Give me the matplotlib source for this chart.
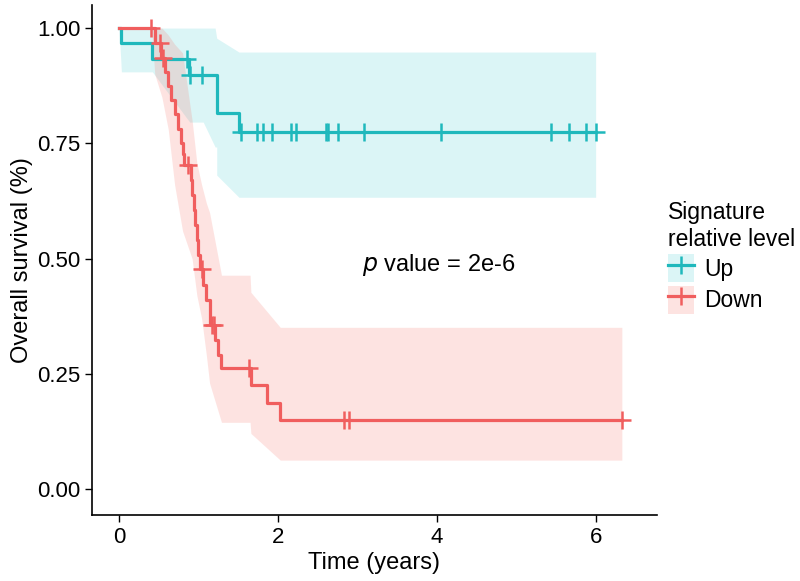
import numpy as np
import matplotlib
matplotlib.use("Agg")
import matplotlib.pyplot as plt
from matplotlib.patches import Patch
from matplotlib.lines import Line2D

plt.rcParams['font.family'] = ['Liberation Sans', 'DejaVu Sans']

# Up group: step times and survival after each step
up_t = [0.0, 0.03, 0.42, 0.88, 1.23, 1.51]
up_s = [1.0, 0.967, 0.933, 0.898, 0.816, 0.774]
up_end = 6.0
up_cens_t = [0.86, 0.89, 1.04, 1.54, 1.74, 1.81, 1.92, 2.16, 2.23, 2.60, 2.63, 2.76, 3.09, 4.05, 5.44, 5.66, 5.88, 6.0]
# Up confidence band
up_ci_t = [0.0, 0.03, 0.42, 0.89, 1.06, 1.21, 1.23, 1.23, 1.51, 6.0]
up_ci_lo = [1.0, 0.905, 0.905, 0.796, 0.796, 0.742, 0.742, 0.681, 0.633, 0.633]
up_ci_hi = [1.0, 1.0, 1.0, 1.0, 1.0, 1.0, 0.978, 0.978, 0.948, 0.948]

# Down group
down_t = [0.0, 0.45, 0.53, 0.58, 0.62, 0.66, 0.70, 0.74, 0.78, 0.80, 0.82, 0.90, 0.92,
          0.94, 0.96, 0.98, 1.00, 1.02, 1.06, 1.09, 1.15, 1.21, 1.25, 1.29, 1.66, 1.86, 2.03]
down_s = [1.0, 0.967, 0.936, 0.905, 0.874, 0.843, 0.813, 0.782, 0.751, 0.727, 0.703, 0.670, 0.637,
          0.605, 0.572, 0.540, 0.508, 0.477, 0.443, 0.410, 0.356, 0.323, 0.290, 0.262, 0.225, 0.187, 0.150]
down_end = 6.33
down_cens_t = [0.40, 0.52, 0.55, 0.87, 1.04, 1.17, 1.19, 1.64, 2.83, 2.89, 6.33]
down_ci_t = [0.0, 0.41, 0.45, 0.54, 0.62, 0.70, 0.80, 0.92, 0.98, 1.04, 1.10, 1.14, 1.29, 1.65, 1.66, 2.03, 6.33]
down_ci_lo = [1.0, 1.0, 0.90, 0.85, 0.78, 0.66, 0.56, 0.50, 0.42, 0.37, 0.29, 0.23, 0.145, 0.145, 0.121, 0.063, 0.063]
down_ci_hi = [1.0, 1.0, 1.0, 1.0, 0.985, 0.965, 0.946, 0.80, 0.707, 0.66, 0.62, 0.60, 0.464, 0.464, 0.427, 0.351, 0.351]

up_col = '#1FB8BC'
down_col = '#F05E5E'


def surv_at(ts, ss, x):
    # value of the step curve at time x
    i = np.searchsorted(ts, x, side='right') - 1
    return np.array(ss)[i]


fig = plt.figure(figsize=(8, 5.81), dpi=100)
ax = fig.add_axes([0.115, 0.1136, 0.706, 0.8778])

ax.fill_between(up_ci_t, up_ci_lo, up_ci_hi, color='#00BFC4', alpha=0.14, lw=0)
ax.fill_between(down_ci_t, down_ci_lo, down_ci_hi, color='#F8766D', alpha=0.2, lw=0)

for ts, ss, end, ct, col in [(up_t, up_s, up_end, up_cens_t, up_col),
                             (down_t, down_s, down_end, down_cens_t, down_col)]:
    ax.step(list(ts) + [end], list(ss) + [ss[-1]], where='post', color=col, lw=2.3)
    ax.plot(ct, surv_at(ts, ss, ct), ls='none', marker='+', color=col, ms=13, mew=1.8)

ax.text(3.06, 0.486, r'$p$ value = 2e-6', fontsize=17, va='center', ha='left')

ax.set_xlim(-0.34, 6.77)
ax.set_ylim(-0.056, 1.05)
ax.set_xticks([0, 2, 4, 6])
ax.set_yticks([0, 0.25, 0.5, 0.75, 1.0])
ax.set_yticklabels(['0.00', '0.25', '0.50', '0.75', '1.00'])
ax.tick_params(labelsize=16, length=5, width=1, colors='black')
ax.spines['top'].set_visible(False)
ax.spines['right'].set_visible(False)
ax.spines['left'].set_linewidth(1.2)
ax.spines['bottom'].set_linewidth(1.2)
ax.set_xlabel('Time (years)', fontsize=17, labelpad=3)
ax.set_ylabel('Overall survival (%)', fontsize=17, labelpad=3)

handles = [(Patch(color='#00BFC4', alpha=0.14, lw=0), Line2D([], [], color=up_col, lw=2.3, marker='+', ms=13, mew=1.8)),
           (Patch(color='#F8766D', alpha=0.2, lw=0), Line2D([], [], color=down_col, lw=2.3, marker='+', ms=13, mew=1.8))]
ax.legend(handles, ['Up', 'Down'], title='Signature\nrelative level', loc='center left',
          bbox_to_anchor=(0.992, 0.505), frameon=False, fontsize=16.5, title_fontsize=16.5,
          alignment='left', handlelength=1.1, handleheight=1.5, handletextpad=0.45, labelspacing=0.15,
          borderpad=0.2)

fig.savefig('out.png', dpi=100)
